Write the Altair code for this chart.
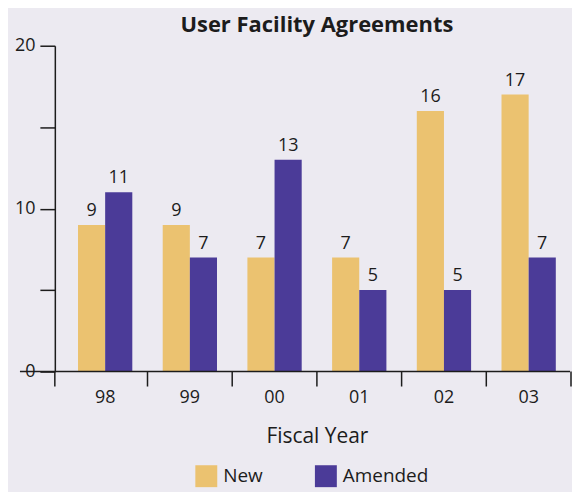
import altair as alt
import pandas as pd

years = ["98", "99", "00", "01", "02", "03"]
series = ["New", "Amended"]
new_vals = [9, 9, 7, 7, 16, 17]
amended_vals = [11, 7, 13, 5, 5, 7]
colors = ["#EBC270", "#4B3B98"]

rows = []
for i, y in enumerate(years):
    rows.append({"year": y, "series": "New", "value": new_vals[i]})
    rows.append({"year": y, "series": "Amended", "value": amended_vals[i]})
df = pd.DataFrame(rows)

W, H = 510, 327
FONT = "Open Sans"
INK = "#1c1c1c"
BG = "#ECEAF1"

xenc = alt.X("year:N", sort=years, title="Fiscal Year",
             scale=alt.Scale(paddingInner=0, paddingOuter=0),
             axis=alt.Axis(ticks=False, domain=False, labelAngle=0, labelPadding=17,
                           labelFontSize=18, labelColor=INK, labelFont=FONT,
                           titleFontSize=21, titleFontWeight="normal", titleColor=INK,
                           titleFont=FONT, titlePadding=19))
xoff = alt.XOffset("series:N", sort=series,
                   scale=alt.Scale(paddingOuter=0.56, paddingInner=0))
yenc = alt.Y("value:Q", title=None,
             scale=alt.Scale(domain=[0, 20], nice=False),
             axis=alt.Axis(values=[0, 5, 10, 15, 20], grid=False, offset=8,
                           labelExpr="datum.value % 10 == 0 ? datum.label : ''",
                           tickSize=15, tickColor=INK, tickWidth=1.5,
                           domainColor=INK, domainWidth=1.5, labelPadding=5,
                           labelFontSize=18, labelColor=INK, labelFont=FONT))

base = alt.Chart(df)

bars = base.mark_bar().encode(
    x=xenc, xOffset=xoff, y=yenc,
    color=alt.Color("series:N", sort=series,
                    scale=alt.Scale(domain=series, range=colors),
                    legend=alt.Legend(title=None, orient="none", legendX=133, legendY=421,
                                      direction="horizontal", symbolType="square",
                                      symbolSize=484, symbolStrokeWidth=0, labelFontSize=19,
                                      labelFont=FONT, labelColor=INK, labelOffset=6,
                                      columnPadding=52, padding=0))
)

texts = base.mark_text(baseline="bottom", dy=-5, fontSize=18, font=FONT, color=INK).encode(
    x=alt.X("year:N", sort=years), xOffset=xoff, y=alt.Y("value:Q"), text="value:Q"
)

tick_df = pd.DataFrame({"year": years[1:]})
ticks_mid = alt.Chart(tick_df).mark_rule(color=INK, strokeWidth=1.5).encode(
    x=alt.X("year:N", sort=years, bandPosition=0),
    y=alt.value(H), y2=alt.value(H + 15)
)
end_df = pd.DataFrame({"year": [years[-1]]})
ticks_end = alt.Chart(end_df).mark_rule(color=INK, strokeWidth=1.5).encode(
    x=alt.X("year:N", sort=years, bandPosition=1),
    y=alt.value(H), y2=alt.value(H + 15)
)
tick_left = alt.Chart(end_df).mark_rule(color=INK, strokeWidth=1.5).encode(
    x=alt.value(-8), y=alt.value(H), y2=alt.value(H + 15)
)
xline = alt.Chart(end_df).mark_rule(color=INK, strokeWidth=1.5).encode(
    x=alt.value(-43), x2=alt.value(W - 1), y=alt.value(H)
)

chart = alt.layer(bars, texts, ticks_mid, ticks_end, tick_left, xline).properties(
    width=W, height=H,
    title=alt.Title("User Facility Agreements", fontSize=22, fontWeight="bold",
                    font=FONT, color=INK, offset=0),
    background=BG,
    padding={"left": 6, "top": 5, "right": 0, "bottom": 4},
).configure_view(stroke=None)

chart.save("out.html", embed_options={"renderer": "svg", "actions": False})
